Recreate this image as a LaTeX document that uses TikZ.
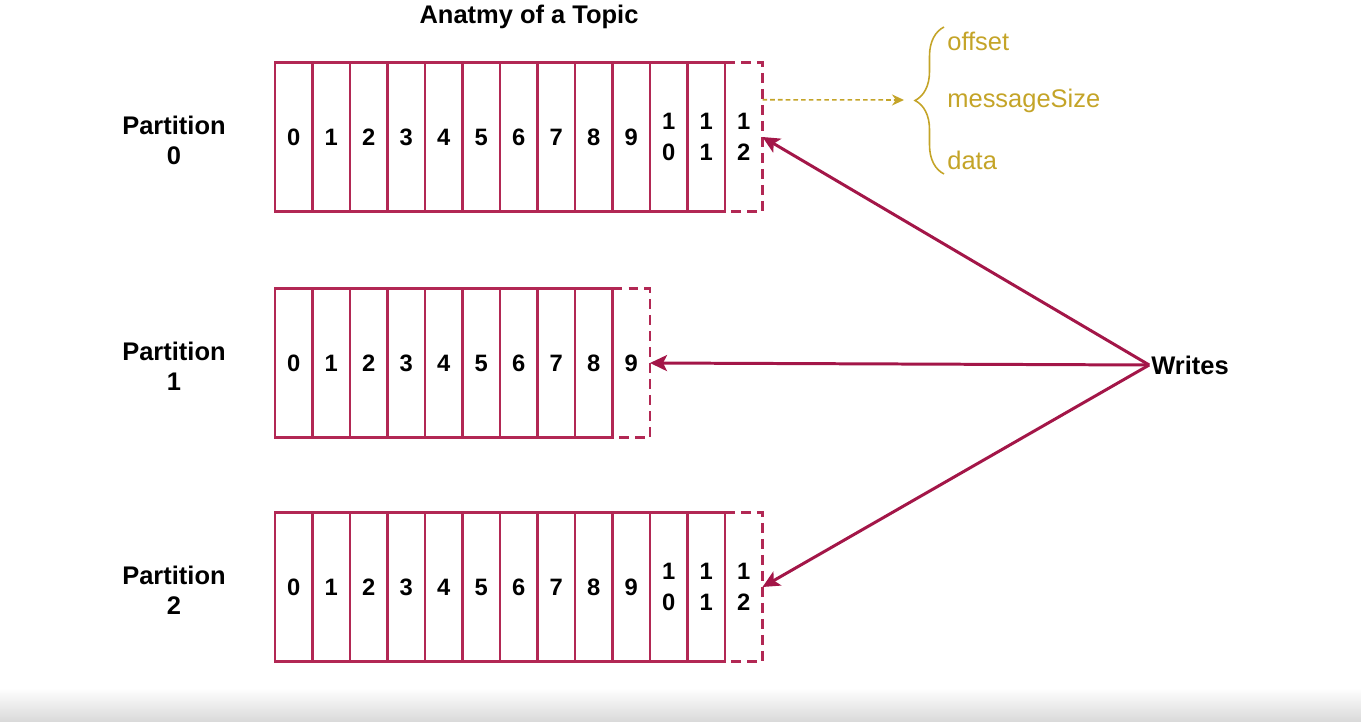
\documentclass[tikz,border=0pt]{standalone}
\usepackage{fontspec}
\setmainfont{Liberation Sans}
\usetikzlibrary{
    arrows.meta,
    calc,
    decorations.pathreplacing
}

\definecolor{cellred}{RGB}{178,40,84}
\definecolor{writered}{RGB}{163,22,72}
\definecolor{fieldgold}{RGB}{196,164,40}

% offset text of a cell: two digits are stacked
\newcommand{\celltext}[1]{\ifnum#1<10 #1\else 1\\\number\numexpr#1-10\relax\fi}

\begin{document}
\begin{tikzpicture}[x=0.02cm,y=-0.02cm,
    cell/.style={draw=cellred,line width=1.5pt,minimum width=0.75cm,minimum height=2.98cm,
        inner sep=0pt,outer sep=0pt,align=center,font=\bfseries\fontsize{13.5}{18}\selectfont},
    newcell/.style={cell,draw=none},
    newedge/.style={draw=cellred,line width=1.6pt,dash pattern=on 5.5pt off 3.6pt},
    partlabel/.style={font=\bfseries\fontsize{14.5}{17}\selectfont,align=center},
    writearrow/.style={draw=writered,line width=1.7pt,-{Stealth[length=0.34cm,width=0.32cm,inset=0.08cm]}},
    fieldarrow/.style={draw=fieldgold,line width=0.9pt,dash pattern=on 2.6pt off 1.8pt,
        -{Stealth[length=0.24cm,width=0.22cm]}},
    field/.style={fieldgold,anchor=west,inner sep=0pt,font=\fontsize{14.5}{17}\selectfont}
]

\useasboundingbox (0,0) rectangle (1361,722);

% Screen edge
\shade[top color=white,bottom color=black!15] (0,688) rectangle (1361,722);

% Title
\node[partlabel] (title) at (529,17) {Anatmy of a Topic};

% Partitions
\foreach \p/\y/\n in {0/137/11,1/363/8,2/587/11} {
    \pgfmathtruncatemacro{\m}{\n+1}
    \node[newcell] (new\p) at ({293.75+37.5*\m},\y) {\celltext{\m}};
    \draw[newedge] (new\p.north west) -- (new\p.north east)
        -- (new\p.south east) -- (new\p.south west);
    \foreach \i in {0,...,\n} {
        \node[cell] (c\p-\i) at ({293.75+37.5*\i},\y) {\celltext{\i}};
    }
    \node[partlabel] (part\p) at (174,\y+3) {Partition\\\p};
}

% Writes
\node[partlabel,inner sep=1pt] (writes) at (1190,365) {Writes};
\draw[writearrow] (writes.west) -- (new0.east);
\draw[writearrow] (writes.west) -- (new1.east);
\draw[writearrow] (writes.west) -- (new2.east);

% Message fields
\coordinate (fieldsrc) at ($(new0.north east)!0.25!(new0.south east)$);
\coordinate (fieldtip) at (904,100);
\draw[fieldarrow] (fieldsrc) -- (fieldtip);
\draw[fieldgold,line width=0.9pt,decorate,decoration={brace,amplitude=0.58cm}]
    (944,174) -- (944,27);
\node[field] (offset) at (947,41) {offset};
\node[field] (msgsize) at (947,101) {messageSize};
\node[field] (data) at (947,160) {data};

\end{tikzpicture}
\end{document}
